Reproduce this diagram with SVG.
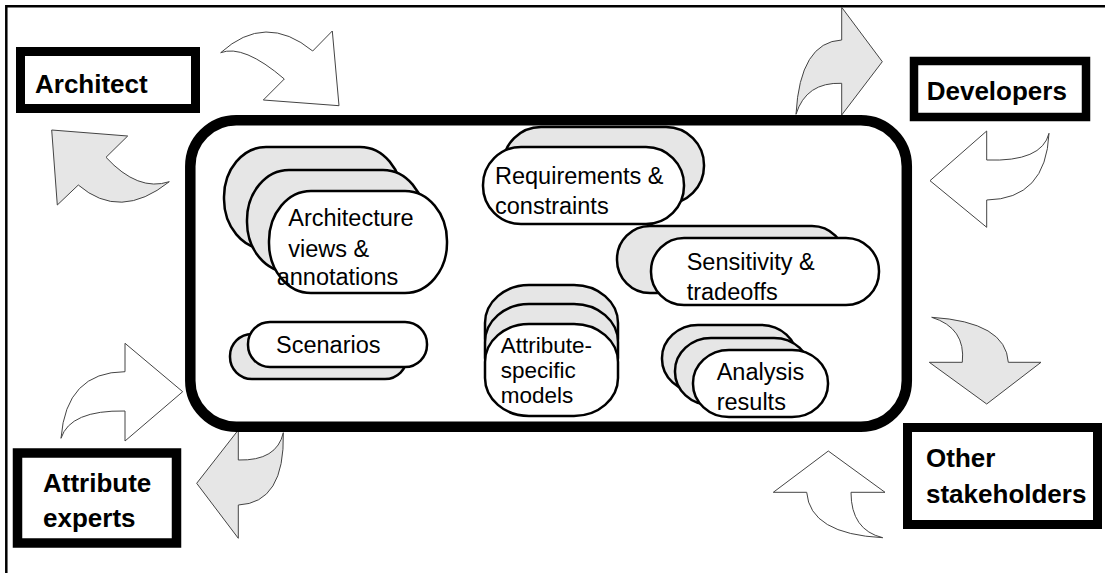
<svg xmlns="http://www.w3.org/2000/svg" width="1105" height="573" viewBox="0 0 1105 573">
<style>
.frame{fill:none;stroke:#000;stroke-width:2.5}
.arr{stroke:#444;stroke-width:1;stroke-linejoin:miter}
.g{fill:#e6e6e6}
.w{fill:#fff}
.box{fill:#fff;stroke:#000;stroke-width:9}
.main{fill:#fff;stroke:#000;stroke-width:10.5}
.back{fill:#e6e6e6;stroke:#000;stroke-width:2.5}
.front{fill:#fff;stroke:#000;stroke-width:2.5}
.lbl{font-family:"Liberation Sans",Arial,sans-serif;font-size:26px;font-weight:bold;fill:#000}
.txt{font-family:"Liberation Sans",Arial,sans-serif;font-size:23.5px;fill:#000}
.tight{font-size:22.5px}
</style>
<rect width="1105" height="573" fill="#fff"/>
<path class="frame" d="M6.3,573 V6.3 H1105"/>
<g id="connectors">
  <path class="arr w" d="M220.7,52.7 Q265.3,12.2 312.7,51 L332.3,31 L339,105.7 L263.3,100 L284.3,79 Q243.5,44 220.7,52.7 Z"/>
  <path class="arr g" d="M51.7,130 L127.7,136 L106,157.3 Q138,192 169.3,181.7 Q120,221 78.3,185 L57.3,205 Z"/>
  <path class="arr g" d="M841.7,7.3 L882.3,61.7 L841.7,115 L841.7,83.3 Q806,82 796,114.3 Q800,42 841.7,40 Z"/>
  <path class="arr w" d="M930,180.7 L986.7,131 L986.7,160 Q1042,162 1049,133.3 Q1046,199 986.7,200 L986.7,227.3 Z"/>
  <path class="arr g" d="M931.7,317.3 Q1006,322 1008.3,362.3 L1041,362.3 L986.7,404 L929.3,362.3 L962.3,362.3 Q966,328 931.7,317.3 Z"/>
  <path class="arr w" d="M828.3,451 L885,492.3 L851,492.3 Q851,530 882.7,537.7 Q810,534 806.7,492.3 L773.3,492.3 Z"/>
  <path class="arr w" d="M125,343.3 L182.7,391.7 L125,441 L125,411 Q70,410 61,438.3 Q66,372 125,371.7 Z"/>
  <path class="arr g" d="M238.3,430 L238.3,460 Q277,461 283.3,432.7 Q285,503 238.3,505 L238.3,538.3 L196.7,483.3 Z"/>
</g>
<g id="workspace">
  <rect class="main" x="190.3" y="120.3" width="716.5" height="306.5" rx="46" ry="46"/>
</g>
<g id="architect">
  <rect class="box" x="20.5" y="51.5" width="175" height="57"/>
  <text class="lbl" x="35" y="92.7">Architect</text>
</g>
<g id="developers">
  <rect class="box" x="914" y="61" width="172" height="56" style="stroke-width:8.5"/>
  <text class="lbl" x="926.7" y="100">Developers</text>
</g>
<g id="attribute-experts">
  <rect class="box" x="17.5" y="453" width="159" height="90" style="stroke-width:9.5"/>
  <text class="lbl" x="43" y="491.7">Attribute</text>
  <text class="lbl" x="43" y="526.7">experts</text>
</g>
<g id="other-stakeholders">
  <rect class="box" x="907.5" y="427.5" width="190" height="97"/>
  <text class="lbl" x="926" y="466.7">Other</text>
  <text class="lbl" x="926" y="503.3">stakeholders</text>
</g>
<g id="architecture-views">
  <rect class="back" x="224" y="147" width="178" height="102" rx="42" ry="50"/>
  <rect class="back" x="247" y="170" width="178" height="102" rx="42" ry="50"/>
  <rect class="front" x="269" y="191" width="178" height="102" rx="42" ry="50"/>
  <text class="txt" x="288.3" y="226">Architecture</text>
  <text class="txt" x="288.3" y="256.7">views &amp;</text>
  <text class="txt" x="276.7" y="285">annotations</text>
</g>
<g id="requirements">
  <rect class="back" x="503" y="127" width="201" height="77" rx="38" ry="38"/>
  <rect class="front" x="483" y="147" width="201" height="77" rx="38" ry="38"/>
  <text class="txt" x="495" y="184.3">Requirements &amp;</text>
  <text class="txt" x="495" y="214">constraints</text>
</g>
<g id="sensitivity">
  <rect class="back" x="617" y="226" width="228" height="67" rx="33" ry="33"/>
  <rect class="front" x="651" y="238" width="228" height="67" rx="33" ry="33"/>
  <text class="txt" x="686.7" y="270">Sensitivity &amp;</text>
  <text class="txt" x="686.7" y="300">tradeoffs</text>
</g>
<g id="scenarios">
  <rect class="back" x="230" y="334" width="177" height="45" rx="22" ry="22"/>
  <rect class="front" x="248" y="322" width="179" height="45" rx="22" ry="22"/>
  <text class="txt" x="276" y="353.3">Scenarios</text>
</g>
<g id="attribute-models">
  <rect class="back" x="485" y="285" width="133" height="92" rx="44" ry="38"/>
  <rect class="back" x="485" y="304" width="133" height="92" rx="44" ry="38"/>
  <rect class="front" x="485" y="324" width="133" height="92" rx="44" ry="38"/>
  <text class="txt tight" x="500.7" y="352.5">Attribute-</text>
  <text class="txt tight" x="500.7" y="377.5">specific</text>
  <text class="txt tight" x="500.7" y="402.5">models</text>
</g>
<g id="analysis-results">
  <rect class="back" x="662" y="325" width="135" height="67" rx="36" ry="33"/>
  <rect class="back" x="675" y="338" width="135" height="67" rx="36" ry="33"/>
  <rect class="front" x="693" y="350" width="135" height="67" rx="36" ry="33"/>
  <text class="txt" x="716.7" y="380">Analysis</text>
  <text class="txt" x="716.7" y="410">results</text>
</g>
</svg>
